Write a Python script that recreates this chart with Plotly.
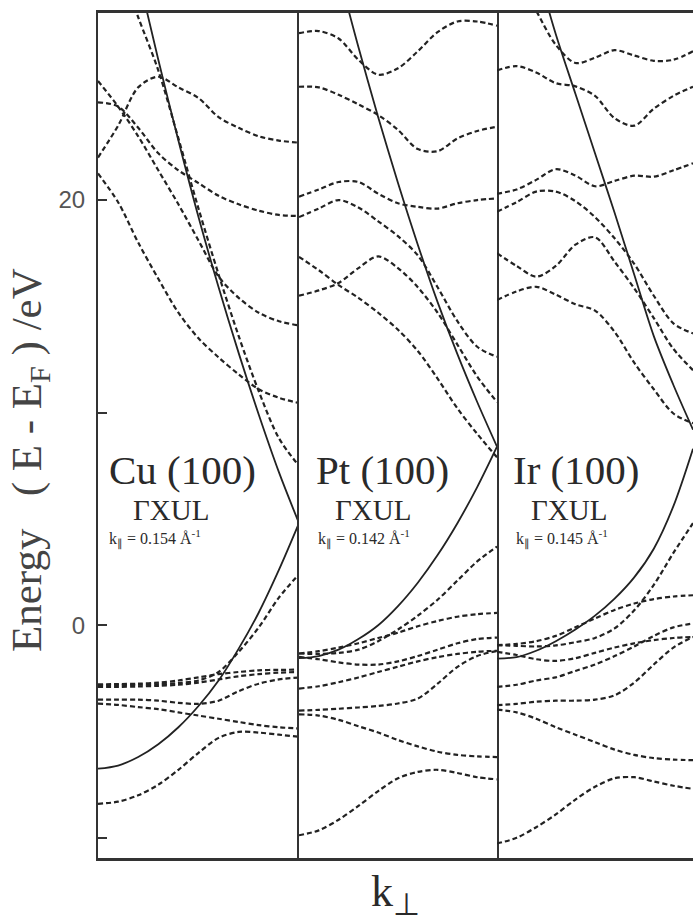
import plotly.graph_objects as go

# ---------------- data ----------------
# k_perp grid across each panel (Gamma -> X), and partial grids for branches entering from the top
K = [0.0, 0.1, 0.2, 0.3, 0.4, 0.5, 0.6, 0.7, 0.8, 0.9, 1.0]
K_UP = [0.2, 0.3, 0.4, 0.5, 0.6, 0.7, 0.8, 0.9, 1.0]
K_TOP = [0.1, 0.2, 0.3, 0.4, 0.5, 0.6, 0.7, 0.8, 0.9, 1.0]

Y_RANGE = [-10.95, 28.8]
Y_TICKS = [-10, 0, 10, 20]
Y_TICKTEXT = ["", "0", "", "20"]

# --- Cu(100) ---
cu_fe_low = [-6.75, -6.6, -6.2, -5.6, -4.8, -3.8, -2.6, -1.1, 0.6, 2.6, 4.8]
cu_fe_up = [30.6, 26.6, 22.8, 19.2, 15.9, 12.8, 9.9, 7.2, 4.8]
cu_b_top = [31.2, 28.6, 26.1, 22.9, 19.6, 16.5, 13.6, 11.0, 8.8, 7.5]
cu_b_hump = [22.0, 23.5, 25.3, 25.8, 25.3, 24.8, 23.9, 23.4, 23.0, 22.8, 22.7]
cu_b_alpha = [25.6, 24.4, 23.0, 21.4, 19.8, 18.1, 16.4, 15.4, 14.7, 14.3, 14.1]
cu_b_beta = [24.6, 24.4, 23.4, 22.2, 21.4, 20.8, 20.2, 19.8, 19.5, 19.3, 19.25]
cu_b_delta = [21.25, 19.9, 18.0, 16.3, 14.7, 13.5, 12.6, 11.8, 11.1, 10.7, 10.45]
cu_d1 = [-8.4, -8.3, -8.0, -7.5, -6.8, -6.0, -5.3, -5.02, -5.05, -5.15, -5.25]
cu_d2 = [-3.69, -3.75, -3.85, -3.95, -4.1, -4.25, -4.4, -4.55, -4.7, -4.8, -4.86]
cu_d3 = [-3.5, -3.5, -3.5, -3.55, -3.65, -3.7, -3.55, -3.1, -2.75, -2.55, -2.46]
cu_d4 = [-2.9, -2.9, -2.88, -2.85, -2.8, -2.7, -2.55, -2.4, -2.3, -2.23, -2.2]
cu_d5 = [-2.78, -2.77, -2.75, -2.7, -2.6, -2.45, -2.3, -2.2, -2.12, -2.1, -2.09]
cu_d6 = [-2.82, -2.82, -2.8, -2.78, -2.72, -2.6, -2.2, -1.25, -0.1, 1.3, 2.4]

# --- Pt(100) ---
pt_fe_low = [-1.55, -1.45, -1.15, -0.65, 0.0, 0.9, 2.0, 3.3, 4.8, 6.5, 8.4]
pt_fe_up = [30.7, 27.2, 23.9, 20.8, 17.9, 15.2, 12.75, 10.5, 8.4]
pt_b1 = [27.85, 27.95, 27.6, 26.6, 25.9, 26.2, 27.0, 27.9, 28.4, 28.4, 28.2]
pt_b2 = [25.33, 25.3, 24.95, 24.5, 24.0, 23.3, 22.4, 22.3, 22.9, 23.25, 23.45]
pt_b3 = [20.16, 20.5, 20.85, 20.85, 20.3, 19.85, 19.68, 19.6, 19.85, 20.0, 20.08]
pt_b4 = [19.2, 19.6, 20.0, 19.65, 19.0, 18.3, 17.4, 15.9, 14.3, 13.1, 12.63]
pt_b5 = [15.5, 15.75, 16.1, 16.8, 17.35, 16.8, 15.9, 14.7, 13.2, 11.7, 10.5]
pt_b6 = [17.33, 16.7, 16.0, 15.4, 14.7, 13.9, 12.9, 11.6, 10.2, 9.0, 7.9]
pt_d1 = [-9.88, -9.65, -9.15, -8.5, -7.8, -7.2, -6.9, -6.8, -6.95, -7.15, -7.25]
pt_d2 = [-4.19, -4.25, -4.45, -4.75, -5.05, -5.4, -5.7, -5.95, -6.1, -6.17, -6.2]
pt_d3 = [-4.02, -3.98, -3.93, -3.87, -3.8, -3.68, -3.45, -2.75, -1.96, -1.45, -1.21]
pt_d4 = [-2.98, -2.87, -2.68, -2.46, -2.2, -1.95, -1.7, -1.5, -1.35, -1.25, -1.2]
pt_d5 = [-1.49, -1.6, -1.75, -1.85, -1.85, -1.7, -1.45, -1.15, -0.85, -0.65, -0.58]
pt_d6 = [-1.33, -1.22, -1.05, -0.85, -0.6, -0.35, -0.05, 0.2, 0.4, 0.52, 0.58]
pt_d7 = [-1.33, -1.35, -1.3, -1.15, -0.75, -0.2, 0.45, 1.2, 2.1, 3.0, 3.7]

# --- Ir(100) ---
ir_fe_low = [-1.57, -1.5, -1.2, -0.75, -0.2, 0.45, 1.25, 2.25, 3.6, 5.6, 8.3]
ir_fe_up = [31.0, 27.8, 25.0, 22.2, 19.4, 16.5, 13.6, 11.3, 9.2]
ir_b_top = [30.5, 28.9, 27.3, 26.45, 26.7, 27.05, 26.8, 26.55, 26.6, 27.0]
ir_b2 = [26.1, 26.3, 26.0, 25.5, 25.35, 24.9, 23.85, 23.5, 24.3, 24.9, 25.33]
ir_b3 = [20.3, 20.5, 20.95, 21.45, 21.15, 20.65, 20.9, 21.15, 21.1, 21.4, 21.73]
ir_b4 = [19.45, 19.9, 20.4, 20.4, 19.95, 19.2, 18.2, 17.0, 15.5, 14.2, 13.73]
ir_b5 = [17.5, 16.9, 16.4, 16.9, 17.9, 18.25, 17.1, 15.85, 14.45, 13.0, 12.0]
ir_b6 = [15.3, 15.7, 15.92, 15.55, 15.1, 14.8, 13.8, 12.35, 11.1, 9.96, 9.5]
ir_d1 = [-10.27, -10.0, -9.5, -8.9, -8.2, -7.6, -7.2, -7.15, -7.35, -7.55, -7.7]
ir_d2 = [-3.97, -4.1, -4.4, -4.8, -5.15, -5.5, -5.85, -6.1, -6.25, -6.32, -6.35]
ir_d3 = [-3.76, -3.7, -3.6, -3.55, -3.55, -3.5, -3.3, -2.7, -1.85, -1.05, -0.55]
ir_d4 = [-2.9, -2.8, -2.6, -2.45, -2.15, -1.85, -1.45, -1.0, -0.5, -0.1, 0.08]
ir_d5 = [-1.25, -1.4, -1.6, -1.68, -1.55, -1.3, -1.05, -0.85, -0.7, -0.6, -0.55]
ir_d6 = [-0.94, -0.88, -0.75, -0.5, -0.1, 0.32, 0.72, 1.02, 1.23, 1.35, 1.41]
ir_d7 = [-0.94, -0.97, -1.0, -0.95, -0.8, -0.6, -0.15, 0.7, 1.9, 3.4, 4.8]

PANEL_NAMES = ["Cu (100)", "Pt (100)", "Ir (100)"]
PANEL_PATH = ["\u0393XUL", "\u0393XUL", "\u0393XUL"]
PANEL_KPAR = ["0.154", "0.142", "0.145"]

panels = [
    dict(xa="x", ya="y",
         solid=[(K, cu_fe_low), (K_UP, cu_fe_up)],
         dashed=[(K_TOP, cu_b_top), (K, cu_b_hump), (K, cu_b_alpha), (K, cu_b_beta),
                 (K, cu_b_delta), (K, cu_d1), (K, cu_d2), (K, cu_d3), (K, cu_d4),
                 (K, cu_d5), (K, cu_d6)]),
    dict(xa="x2", ya="y2",
         solid=[(K, pt_fe_low), (K_UP, pt_fe_up)],
         dashed=[(K, pt_b1), (K, pt_b2), (K, pt_b3), (K, pt_b4), (K, pt_b5), (K, pt_b6),
                 (K, pt_d1), (K, pt_d2), (K, pt_d3), (K, pt_d4), (K, pt_d5), (K, pt_d6),
                 (K, pt_d7)]),
    dict(xa="x3", ya="y3",
         solid=[(K, ir_fe_low), (K_UP, ir_fe_up)],
         dashed=[(K_TOP, ir_b_top), (K, ir_b2), (K, ir_b3), (K, ir_b4), (K, ir_b5), (K, ir_b6),
                 (K, ir_d1), (K, ir_d2), (K, ir_d3), (K, ir_d4), (K, ir_d5), (K, ir_d6),
                 (K, ir_d7)]),
]

# ---------------- styling ----------------
LINE = "#222222"
FRAME = "#333333"
SERIF = "Liberation Serif, Times New Roman, serif"
SANS = "Liberation Sans, Arial, sans-serif"

fig = go.Figure()
for p in panels:
    for kx, ey in p["dashed"]:
        fig.add_trace(go.Scatter(x=kx, y=ey, xaxis=p["xa"], yaxis=p["ya"], mode="lines",
                                 line=dict(color=LINE, width=2.2, dash="5px,3px",
                                           shape="spline", smoothing=0.9),
                                 showlegend=False, hoverinfo="skip"))
    for kx, ey in p["solid"]:
        fig.add_trace(go.Scatter(x=kx, y=ey, xaxis=p["xa"], yaxis=p["ya"], mode="lines",
                                 line=dict(color=LINE, width=1.8, shape="spline", smoothing=0.9),
                                 showlegend=False, hoverinfo="skip"))

W_PLOT = 595.0
d1 = 201 / W_PLOT
d2 = 399 / W_PLOT

xcommon = dict(range=[0, 1], showgrid=False, zeroline=False, showticklabels=False, ticks="",
               showline=True, mirror=True, linecolor=FRAME, linewidth=2.5)
ycommon = dict(range=Y_RANGE, showgrid=False, zeroline=False, linecolor=FRAME, linewidth=2.2)

fig.update_layout(
    width=693, height=918,
    margin=dict(l=98, r=0, t=13, b=60),
    paper_bgcolor="white", plot_bgcolor="white",
    showlegend=False,
    xaxis=dict(domain=[0, d1], anchor="y", **xcommon),
    xaxis2=dict(domain=[d1, d2], anchor="y2", **xcommon),
    xaxis3=dict(domain=[d2, 1], anchor="y3", **xcommon),
    yaxis=dict(anchor="x", showline=True, mirror=False, ticks="inside", ticklen=9, tickwidth=2,
               tickcolor=FRAME, tickvals=Y_TICKS, ticktext=Y_TICKTEXT,
               tickfont=dict(family=SANS, size=24, color="#555555"), ticklabelstandoff=6,
               **ycommon),
    yaxis2=dict(anchor="x2", matches="y", showline=True, mirror=True, ticks="",
                showticklabels=False, **ycommon),
    yaxis3=dict(anchor="x3", matches="y", showline=False, ticks="",
                showticklabels=False, **ycommon),
    yaxis4=dict(overlaying="y", anchor="x3", side="right", range=Y_RANGE, showline=False,
                showgrid=False, zeroline=False, ticks="inside", ticklen=8, tickwidth=2,
                tickcolor=FRAME, tickvals=Y_TICKS, showticklabels=False),
)

annotations = []
refs = [("x", "y"), ("x2", "y2"), ("x3", "y3")]
title_x = [0.043, 0.078, 0.072]
path_x = [0.165, 0.17, 0.165]
kpar_x = [0.043, 0.085, 0.085]
for i, (xr, yr) in enumerate(refs):
    annotations.append(dict(text=PANEL_NAMES[i], xref=xr, yref=yr, x=title_x[i], y=7.3,
                            xanchor="left", yanchor="middle", showarrow=False,
                            font=dict(family=SERIF, size=41, color="#2a2a2a")))
    annotations.append(dict(text=PANEL_PATH[i], xref=xr, yref=yr, x=path_x[i], y=5.4,
                            xanchor="left", yanchor="middle", showarrow=False,
                            font=dict(family=SERIF, size=29, color="#2a2a2a")))
    annotations.append(dict(text="k<sub>\u2225</sub> = " + PANEL_KPAR[i] + " \u00c5<sup>-1</sup>",
                            xref=xr, yref=yr, x=kpar_x[i], y=4.1,
                            xanchor="left", yanchor="middle", showarrow=False,
                            font=dict(family=SERIF, size=16, color="#2a2a2a")))

annotations.append(dict(text="Energy\u00a0\u00a0\u00a0( E - E<sub>F</sub> ) /eV",
                        xref="paper", yref="paper", x=(30 - 98) / W_PLOT, y=(858 - 460) / 845.0,
                        xanchor="center", yanchor="middle", textangle=-90, showarrow=False,
                        font=dict(family=SERIF, size=43, color="#444444")))
annotations.append(dict(text="k<sub>\u22a5</sub>",
                        xref="paper", yref="paper", x=(395 - 98) / W_PLOT, y=(858 - 894) / 845.0,
                        xanchor="center", yanchor="middle", showarrow=False,
                        font=dict(family=SERIF, size=44, color="#2a2a2a")))
fig.update_layout(annotations=annotations)

fig.write_html("out.html")
